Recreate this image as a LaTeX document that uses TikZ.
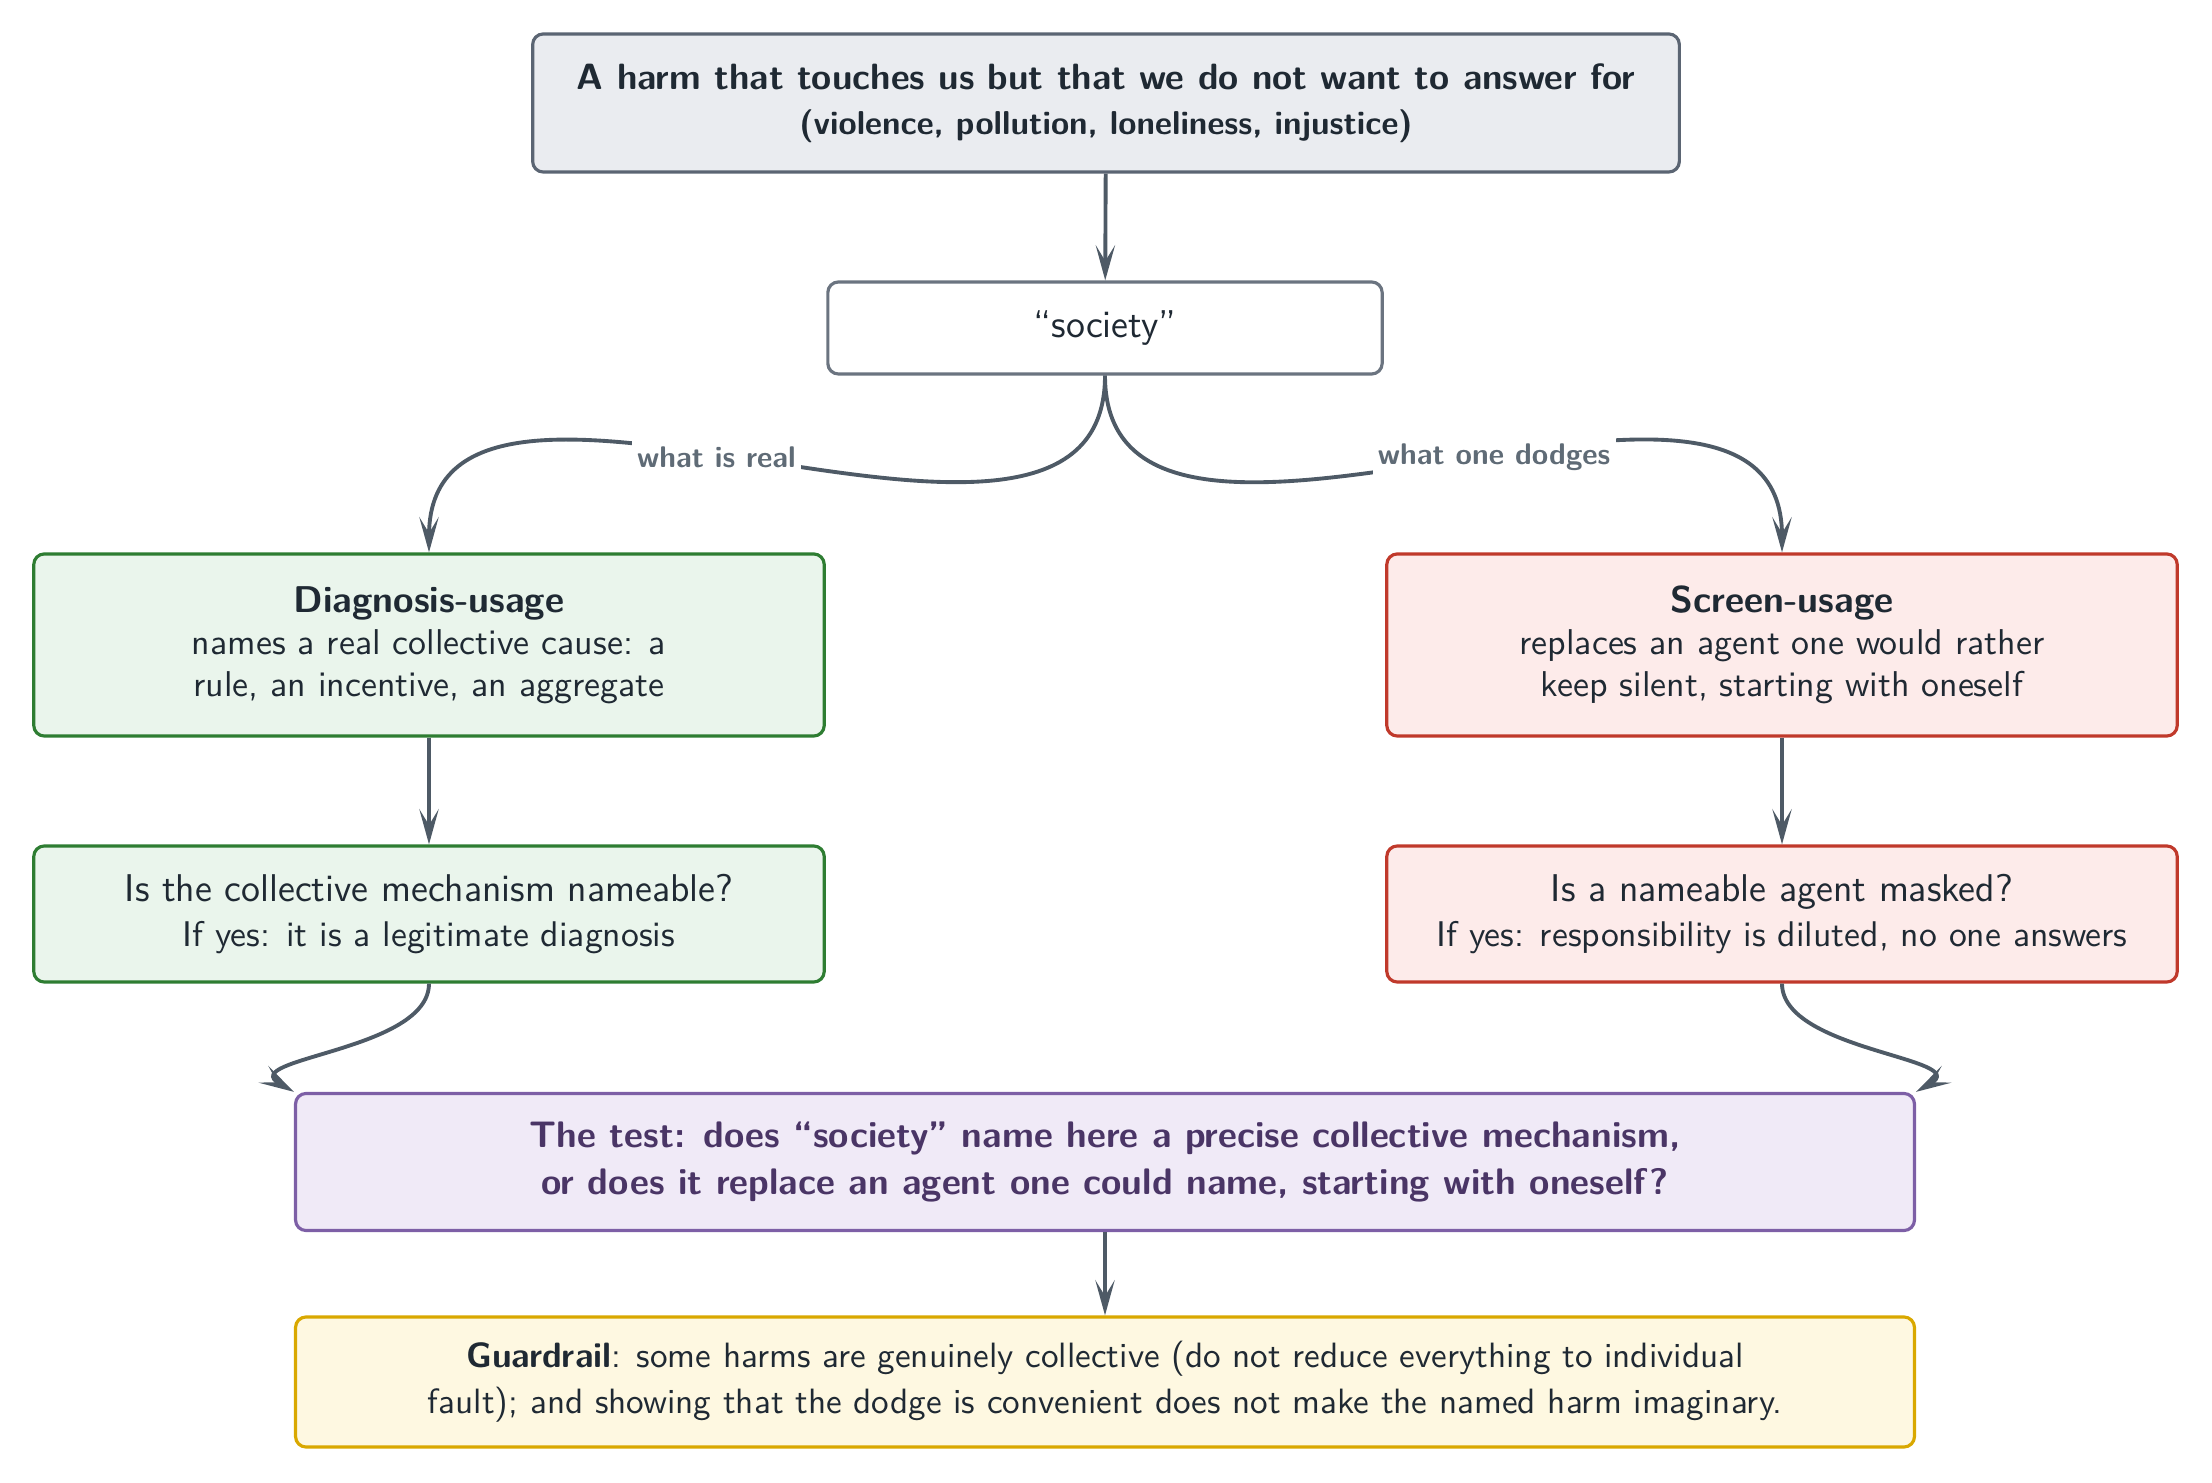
\documentclass[tikz,border=0pt]{standalone}
\usepackage{fontspec}
\usetikzlibrary{arrows.meta}
\definecolor{txt}{HTML}{1F2933}
\definecolor{arrowc}{HTML}{4E5A66}
\definecolor{labelc}{HTML}{5F6B76}
\definecolor{topfill}{HTML}{EAECF0}
\definecolor{topdraw}{HTML}{5B6573}
\definecolor{socdraw}{HTML}{6B7480}
\definecolor{gfill}{HTML}{EAF5EC}
\definecolor{gdraw}{HTML}{2E7D32}
\definecolor{rfill}{HTML}{FDEBEA}
\definecolor{rdraw}{HTML}{C0392B}
\definecolor{pfill}{HTML}{F0EAF7}
\definecolor{pdraw}{HTML}{7D5FA6}
\definecolor{ptxt}{HTML}{4A3566}
\definecolor{yfill}{HTML}{FEF8E1}
\definecolor{ydraw}{HTML}{D9A800}
\begin{document}
\begin{tikzpicture}[x=0.01cm,y=-0.01cm,
  box/.style={draw, rounded corners=3pt, line width=0.9pt, align=center, inner sep=0pt, text=txt, font=\sffamily},
  arr/.style={draw=arrowc, line width=1.1pt, -{Stealth[length=10pt,width=5.5pt,inset=4.5pt]}},
  elabel/.style={fill=white, inner sep=1.5pt, font=\sffamily\bfseries\fontsize{8.5}{10}\selectfont, text=labelc},
]
\useasboundingbox (0,0) rectangle (2212,1483);
\node[box, fill=topfill, draw=topdraw, minimum width=11.46cm, minimum height=1.38cm] (top) at (1106,103)
  {{\bfseries\fontsize{10.4}{12.5}\selectfont A harm that touches us but that we do not want to answer for}\\[0.8pt]
   {\bfseries\fontsize{9.4}{12.5}\selectfont (violence, pollution, loneliness, injustice)}};
\node[box, fill=white, draw=socdraw, minimum width=5.54cm, minimum height=0.92cm, font=\sffamily\fontsize{11}{13}\selectfont] (soc) at (1105,328) {“society”};
\node[box, fill=gfill, draw=gdraw, minimum width=7.90cm, minimum height=1.82cm] (diag) at (429,645)
  {{\bfseries\fontsize{10.6}{12.8}\selectfont Diagnosis-usage}\\
   {\fontsize{10.2}{12.8}\selectfont names a real collective cause: a}\\
   {\fontsize{10.2}{12.8}\selectfont rule, an incentive, an aggregate}};
\node[box, fill=rfill, draw=rdraw, minimum width=7.90cm, minimum height=1.82cm] (screen) at (1782,645)
  {{\bfseries\fontsize{10.6}{12.8}\selectfont Screen-usage}\\
   {\fontsize{10.2}{12.8}\selectfont replaces an agent one would rather}\\
   {\fontsize{10.2}{12.8}\selectfont keep silent, starting with oneself}};
\node[box, fill=gfill, draw=gdraw, minimum width=7.90cm, minimum height=1.36cm] (qL) at (429,914)
  {{\fontsize{11}{13}\selectfont Is the collective mechanism nameable?}\\[0.7pt]
   {\fontsize{10.15}{13}\selectfont If yes: it is a legitimate diagnosis}};
\node[box, fill=rfill, draw=rdraw, minimum width=7.90cm, minimum height=1.36cm] (qR) at (1782,914)
  {{\fontsize{11}{13}\selectfont Is a nameable agent masked?}\\[0.7pt]
   {\fontsize{10.15}{13}\selectfont If yes: responsibility is diluted, no one answers}};
\node[box, fill=pfill, draw=pdraw, text=ptxt, minimum width=16.18cm, minimum height=1.37cm, font=\sffamily\bfseries\fontsize{10.5}{13.2}\selectfont] (test) at (1105,1162)
  {The test: does “society” name here a precise collective mechanism,\\
   or does it replace an agent one could name, starting with oneself?};
\node[box, fill=yfill, draw=ydraw, minimum width=16.18cm, minimum height=1.30cm, font=\sffamily\fontsize{10}{13}\selectfont] (guard) at (1105,1382)
  {\textbf{Guardrail}: some harms are genuinely collective (do not reduce everything to individual\\
   fault); and showing that the dodge is convenient does not make the named harm imaginary.};
\draw[arr] (top) -- (soc);
\draw[arr] (soc.south) to[out=-90,in=90] node[elabel, pos=0.55] {what is real} (diag.north);
\draw[arr] (soc.south) to[out=-90,in=90] node[elabel, pos=0.55] {what one dodges} (screen.north);
\draw[arr] (diag) -- (qL);
\draw[arr] (screen) -- (qR);
\draw[arr] (qL.south) to[out=-90,in=150] (test.north west);
\draw[arr] (qR.south) to[out=-90,in=30] (test.north east);
\draw[arr] (test) -- (guard);
\end{tikzpicture}
\end{document}
